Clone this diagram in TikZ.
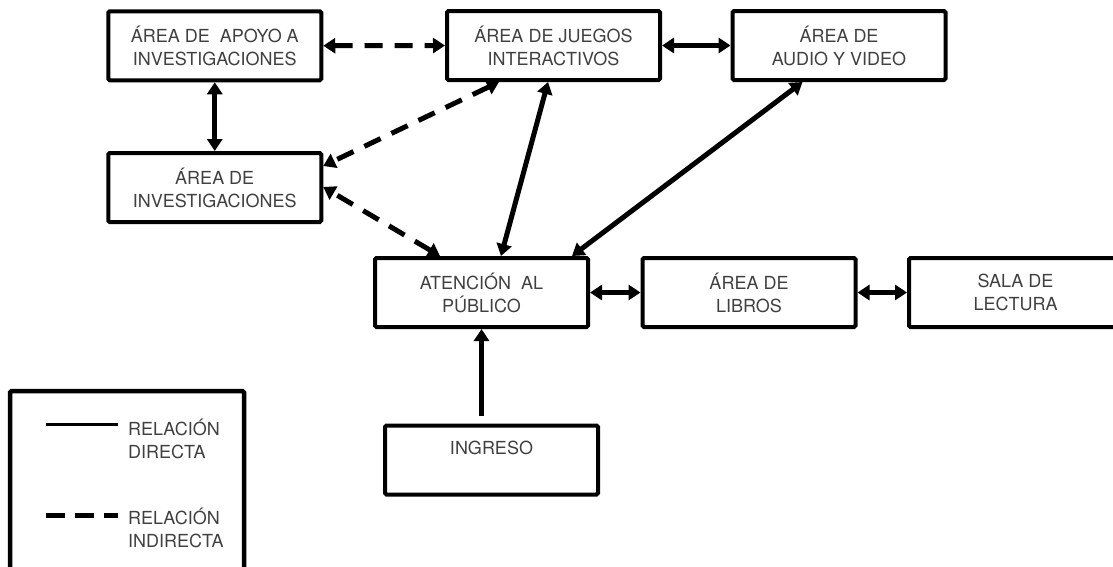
\documentclass[tikz,border=0pt]{standalone}
\usepackage{fontspec}
\setmainfont{TeX Gyre Heros}
\usetikzlibrary{arrows.meta,calc}
\tikzset{
  box/.style={draw=black, line width=4pt, rounded corners=1.5pt, minimum width=213pt, minimum height=69pt, inner sep=0pt, align=center, text=black!75, font=\fontsize{18}{23}\selectfont},
  txt/.style={inner sep=0pt, align=left, text=black!75, font=\fontsize{18}{23}\selectfont},
  dir/.style={line width=5pt, {Triangle[length=12pt,width=15pt]}-{Triangle[length=12pt,width=15pt]}},
  ind/.style={dir, dash pattern=on 18pt off 12pt},
}
\begin{document}
\begin{tikzpicture}[x=1pt,y=-1pt]
\useasboundingbox (0,0) rectangle (1113,566);
\node[box] (b1) at (214.75,45.75) {ÁREA DE\ \ APOYO A\\INVESTIGACIONES};
\node[box] (b2) at (553.5,45.5) {ÁREA DE JUEGOS\\INTERACTIVOS};
\node[box] (b3) at (839,45.5) {ÁREA DE\\AUDIO Y VIDEO};
\node[box] (b4) at (214.75,187.5) {ÁREA DE\\INVESTIGACIONES};
\node[box] (b5) at (481.5,292.5) {ATENCIÓN\ \ AL\\PÚBLICO};
\node[box] (b6) at (749,292.5) {ÁREA DE\\LIBROS};
\node[box] (b7) at (1015.5,292.5) {SALA DE\\LECTURA};
\node[box] (b8) at (491.5,460) {};
\node[txt] (t8) at (491.5,448) {INGRESO};
% legend
\node[draw=black, line width=4.5pt, rounded corners=1.5pt, minimum width=234pt, minimum height=209pt, inner sep=0pt] (leg) at (127,495.5) {};
\coordinate (l1a) at (46,424);
\coordinate (l1b) at (118,424);
\coordinate (l2a) at (46,515);
\coordinate (l2b) at (118,515);
\draw[line width=3pt] (l1a) -- (l1b);
\draw[line width=5pt, dash pattern=on 19pt off 10pt] (l2a) -- (l2b);
\node[txt, anchor=west] (lt1) at (128,438.5) {RELACIÓN\\DIRECTA};
\node[txt, anchor=west] (lt2) at (128,528) {RELACIÓN\\INDIRECTA};
% connectors
\draw[ind] (b1.east) -- (b2.west);
\draw[dir] (b2.east) -- (b3.west);
\draw[dir] (b1.south) -- (b4.north);
\draw[ind] ($(b2.south west)+(54,0)$) -- ($(b4.north east)+(0,15)$);
\draw[ind] ($(b5.north west)+(67,0)$) -- ($(b4.north east)+(0,36)$);
\draw[dir] ($(b2.south west)+(103,0)$) -- ($(b5.north west)+(128,0)$);
\draw[dir] ($(b3.south west)+(72,0)$) -- ($(b5.north west)+(199,0)$);
\draw[dir] (b5.east) -- (b6.west);
\draw[dir] (b6.east) -- (b7.west);
\coordinate (in) at ($(b8.north west)+(98.5,-8)$);
\draw[line width=5pt, -{Triangle[length=12pt,width=15pt]}] (in) -- ($(b5.south west)+(108.5,0)$);
\end{tikzpicture}
\end{document}
